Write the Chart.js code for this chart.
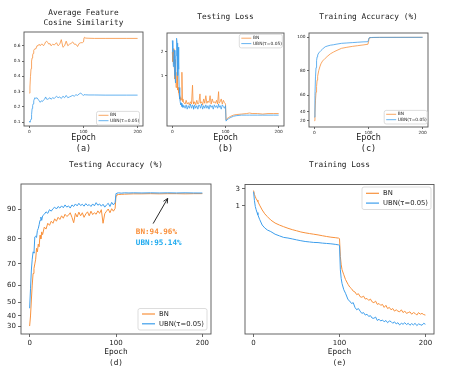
<!DOCTYPE html>
<html>
<head>
<meta charset="utf-8">
<script src="https://cdn.jsdelivr.net/npm/chart.js@4.4.1/dist/chart.umd.min.js"></script>
<style>
  html, body { margin: 0; padding: 0; background: #fff; }
  #fig { position: relative; width: 457px; height: 383px; overflow: hidden; }
  #fig canvas { position: absolute; }
</style>
</head>
<body>
<div id="fig">
  <canvas id="panelA" width="150" height="160" style="left:0;top:0"></canvas>
  <canvas id="panelB" width="146" height="160" style="left:150px;top:0"></canvas>
  <canvas id="panelC" width="161" height="160" style="left:296px;top:0"></canvas>
  <canvas id="panelD" width="228" height="223" style="left:0;top:160px"></canvas>
  <canvas id="panelE" width="229" height="223" style="left:228px;top:160px"></canvas>
</div>
<script>
// ---- data ----
const seriesLabels = ["BN", "UBN(τ=0.05)"];
const epochTicks = [0, 100, 200];

// (a) average feature cosine similarity
const aEpoch = [0,1,2,3,4,5,6,7,8,10,12,14,16,18,20,22,24,26,28,30,32,34,36,38,40,43,46,50,53,56,59,62,65,68,71,74,77,80,83,86,89,92,95,98,100,101,102,104,110,120,140,160,180,200];
const aBN = [0.29,0.33,0.40,0.45,0.50,0.52,0.54,0.55,0.57, 0.58,0.58,0.60,0.60,0.61,0.60,0.61,0.61,0.60,0.61,0.625,0.63,0.62,0.61,0.615,0.60, 0.61,0.605, 0.62,0.60,0.61,0.64,0.59,0.60,0.63,0.60,0.61,0.615,0.625,0.61,0.61,0.595,0.615,0.62,0.62, 0.625,0.652,0.655,0.65,0.649,0.648, 0.648,0.648,0.648,0.648];
const aUBN = [0.105,0.10,0.11,0.12,0.15,0.19,0.21,0.22,0.24, 0.26,0.255,0.26,0.25,0.24,0.23,0.24,0.235,0.245,0.25,0.265,0.25,0.25,0.255,0.26,0.25, 0.26,0.255, 0.27,0.26,0.265,0.255,0.27,0.26,0.275,0.26,0.265,0.27,0.275,0.27,0.28,0.275,0.285,0.29,0.28, 0.275,0.28,0.28,0.279,0.278,0.278, 0.277,0.277,0.277,0.277];
const aYTicks = [0.1, 0.2, 0.3, 0.4, 0.5, 0.6];

// (b) testing loss
const bEpoch = [0,1,2,3,4,5,6,7,8,9,10,11,12,13,14,15,16,17,18,19,20, 22,24,26,28,30,32,34,36, 38,39,40, 42,44,46,48,50,52, 53,55,57,59,61,63,65,67,69,71,73,75,77,79,81,83,85,87,88,90,92,94,96,98,100, 101,103,106,110,115,120,130,140,145,150,160,170,180,190,200];
const bBN = [2.0,1.5,2.2,1.4,1.2,0.9,1.6,0.7,0.75,1.1,0.65,0.7,0.6,0.55,0.5,0.52,0.48,0.5,1.1,0.5,0.46, 0.45,0.43,0.48,0.43,0.45,0.42,0.46,0.43, 0.75,0.46,0.43, 0.46,0.42,0.48,0.43,0.45,0.58, 0.44,0.46,0.42,0.5,0.44,0.55,0.44,0.47,0.45,0.55,0.43,0.5,0.45,0.46,0.44,0.48,0.43,0.62,0.44,0.46,0.5,0.43,0.48,0.45,0.43, 0.27,0.28,0.29,0.3,0.31,0.315,0.32,0.325,0.33,0.325,0.325,0.32,0.325,0.325,0.325];
const bUBN = [2.8,2.0,1.3,1.6,2.1,1.0,0.8,1.8,3.0,2.6,1.0,2.3,1.2,0.7,0.5,0.45,0.42,0.44,0.4,0.42,0.39, 0.41,0.38,0.42,0.37,0.41,0.38,0.43,0.38, 0.42,0.4,0.37, 0.42,0.38,0.41,0.37,0.42,0.4, 0.38,0.43,0.37,0.41,0.38,0.42,0.38,0.41,0.37,0.42,0.39,0.41,0.37,0.42,0.39,0.41,0.38,0.43,0.39,0.41,0.37,0.42,0.4,0.38,0.41, 0.26,0.27,0.28,0.29,0.3,0.305,0.31,0.31,0.31,0.31,0.31,0.31,0.31,0.31,0.31];
const bYTicks = [1, 2];

// (c) training accuracy
const cEpoch = [0,1,2,3,4,5,6,8,10,12,15,20,25,30,35,40,50,60,70,80,90,99,100,101,102,105,110,120,200];
const cBN = [20,38,55,63,68,73,76,80,82.5,84.5,86.3,88,89.5,90.8,91.7,92.5,93.9,94.5,95,95.4,95.8,96.2,97.5,99.5,99.7,99.8,99.85,99.9,99.95];
const cUBN = [30,60,75.5,82,86.5,88.9,90,91.2,91.9,92.6,93.5,94.8,95.3,95.7,95.9,96.2,96.7,96.9,97.1,97.3,97.5,97.6,98.5,99.6,99.8,99.85,99.9,99.92,99.95];
const cYTicks = [20, 40, 60, 80, 100];

// (d) testing accuracy
const dEpoch = [0,1,2,3,4,5,6,7,8,9,10,11,12,13,14,15, 17,19,21,23,25,27,29,31,33,35,37,39,41,43,45,47,49,51,53,55,57,59,61,63,65,67,69,71,73,75,77,79,81,83,85,87,89,91,93,95,97,99, 100,101,103,106,110,115,120, 130,140,150,160,170,180,190,200];
const dBN = [30,40,51.5,60,65.7,68,70,72,76.4,75,78,77,81.3,80,82.5,81.5, 84.2,83.5,85.5,84.8,86.2,85.5,87,86.2,87.5,86.8, 88,87.2,88.5,87.8,88.2,89,87.5,85.7,88.8,87.6, 89.2,88,89,87.5,88.6,89.3,88,89.5,88.4,89, 88.5,89.6,88.8,90,85.5,88.7,89.5,90.2,89,90.3, 89.5,90.4, 94.3,94.6,94.7,94.75,94.8,94.85,94.9, 94.9,94.95,94.9,94.95,94.95,94.9,94.95,94.96];
const dUBN = [46,58,67.3,72,75,74.5,80.7,81,80.5,83,83.7,85,86.5,87.6,86.5,88, 88.5,89.3,88.8,90,89.5,90.3,90.8,90.2,91,90.5, 91.2,90.6,91.5,90.8,91.2,90.5,91.5,91,91.8,91.2, 92,91.3,91.7,91.1,91.9,91.3,91.6,91,91.8,91.2, 92.2,91.4,91.8,91.1,91.7,90.8,91.5,92,91,92.3, 91.5,92.3, 95,95.1,95.2,95.1,95.2,95.15,95.2, 95.15,95.2,95.15,95.2,95.15,95.2,95.15,95.14];
const dYTicks = [30, 40, 50, 60, 70, 80, 90];

// (e) training loss
const eEpoch = [0,1,2,3,4,5,7,10,13,16,20,25,30,35,40,45,50,55,60,65,70,75,80,85,90,95,99,100,101,102,103,105,107,110, 112,114,116,118,120,122,124,126,128,130,132,134,136,138,140,142,144,146,148,150,152,154,156,158,160,162,164,166,168,170,172,174,176,178,180,182,184,186,188,190,192,194,196,198,200];
const eBN = [2.7,2.1,1.8,1.6,1.45,1.32,1.05,0.77,0.6,0.5,0.40,0.33,0.29,0.26,0.235,0.215,0.20,0.185,0.175,0.167,0.16,0.153,0.145,0.138,0.132,0.128,0.124,0.12,0.038,0.022,0.016,0.0116,0.0085,0.0062, 0.0052,0.0047,0.0040,0.0038,0.0032,0.0034,0.0028,0.0027,0.0029,0.0024,0.0025,0.0022,0.0024,0.0020,0.0019,0.0021,0.0017,0.0018,0.0016,0.0017,0.0014,0.0016,0.0013,0.0014,0.0012,0.0013,0.0011,0.0012,0.0011,0.00105,0.0012,0.001,0.0011,0.00095,0.001,0.00105,0.0009,0.001,0.00095,0.00085,0.001,0.0009,0.00095,0.00088,0.00085];
const eUBN = [2.5,1.4,0.96,0.78,0.65,0.56,0.42,0.29,0.24,0.21,0.19,0.16,0.144,0.13,0.125,0.118,0.111,0.105,0.1,0.097,0.094,0.093,0.09,0.088,0.086,0.083,0.08,0.078,0.016,0.009,0.0065,0.0044,0.0035,0.0023, 0.0021,0.0018,0.0019,0.0014,0.0012,0.0013,0.0011,0.00095,0.001,0.00085,0.0009,0.00078,0.00082,0.0007,0.00069,0.00075,0.0006,0.00065,0.00058,0.00062,0.00055,0.0006,0.00052,0.00058,0.00056,0.0005,0.00055,0.00048,0.00052,0.00045,0.0005,0.00047,0.00052,0.00046,0.0005,0.00044,0.00049,0.00045,0.0005,0.00043,0.00048,0.00046,0.00044,0.0005,0.00047];
const eYTicks = [1, 3];

const BN_COLOR = "#f8913c";
const UBN_COLOR = "#3d9eec";
const TEXT = "#222";
const MONO = '"DejaVu Sans Mono"';
Chart.defaults.font.family = '"DejaVu Sans"';

// matplotlib-like power axis for the accuracy panels
class PowerScale extends Chart.LinearScale {
  static id = "power";
  static defaults = {};
  _f(v) {
    const p = this.options.power || 2.2;
    return Math.sign(v) * Math.pow(Math.abs(v), p);
  }
  _fi(t) {
    const p = this.options.power || 2.2;
    return Math.sign(t) * Math.pow(Math.abs(t), 1 / p);
  }
  getPixelForValue(value) {
    const a = this._f(this.min), b = this._f(this.max);
    return this.getPixelForDecimal((this._f(value) - a) / (b - a));
  }
  getValueForPixel(pixel) {
    const a = this._f(this.min), b = this._f(this.max);
    return this._fi(a + this.getDecimalForPixel(pixel) * (b - a));
  }
}
Chart.register(PowerScale);

// box around the plot area
const framePlugin = {
  id: "frame",
  afterDatasetsDraw(chart) {
    const { ctx, chartArea: a } = chart;
    ctx.save();
    ctx.strokeStyle = "#555";
    ctx.lineWidth = 0.9;
    ctx.strokeRect(a.left, a.top, a.right - a.left, a.bottom - a.top);
    ctx.restore();
  },
};

// legend drawn inside the plot area
const legendBox = {
  id: "legendBox",
  afterDatasetsDraw(chart, args, o) {
    if (!o.corner) return;
    const { ctx, chartArea: a } = chart;
    const x = o.corner[1] === "r" ? a.right - o.mx - o.w : a.left + o.mx;
    const y = o.corner[0] === "b" ? a.bottom - o.my - o.h : a.top + o.my;
    ctx.save();
    ctx.fillStyle = "rgba(255,255,255,0.9)";
    ctx.strokeStyle = "#d4d4d4";
    ctx.lineWidth = 0.8;
    ctx.beginPath();
    ctx.roundRect(x, y, o.w, o.h, 2);
    ctx.fill();
    ctx.stroke();
    ctx.font = o.size + 'px "DejaVu Sans"';
    ctx.textBaseline = "middle";
    chart.data.datasets.forEach((ds, i) => {
      const ry = y + o.pad + o.rowH * (i + 0.5);
      ctx.strokeStyle = ds.borderColor;
      ctx.lineWidth = o.lw;
      ctx.beginPath();
      ctx.moveTo(x + o.inset, ry);
      ctx.lineTo(x + o.inset + o.line, ry);
      ctx.stroke();
      ctx.fillStyle = TEXT;
      ctx.fillText(ds.label, x + o.inset + o.line + o.gap, ry);
    });
    ctx.restore();
  },
};

// arrow and final accuracy note in (d)
const arrowNote = {
  id: "arrowNote",
  afterDatasetsDraw(chart, args, o) {
    if (!o.tip) return;
    const { ctx, scales: { x, y } } = chart;
    const x0 = x.getPixelForValue(o.tail[0]), y0 = y.getPixelForValue(o.tail[1]);
    const x1 = x.getPixelForValue(o.tip[0]), y1 = y.getPixelForValue(o.tip[1]);
    const ang = Math.atan2(y1 - y0, x1 - x0);
    ctx.save();
    ctx.strokeStyle = "#111";
    ctx.lineWidth = 0.9;
    ctx.beginPath();
    ctx.moveTo(x0, y0);
    ctx.lineTo(x1, y1);
    ctx.moveTo(x1 - 5 * Math.cos(ang - 0.45), y1 - 5 * Math.sin(ang - 0.45));
    ctx.lineTo(x1, y1);
    ctx.lineTo(x1 - 5 * Math.cos(ang + 0.45), y1 - 5 * Math.sin(ang + 0.45));
    ctx.stroke();
    ctx.font = "bold 7.6px " + MONO;
    ctx.textBaseline = "middle";
    o.lines.forEach((l) => {
      ctx.fillStyle = l.color;
      ctx.fillText(l.text, x.getPixelForValue(l.at[0]), y.getPixelForValue(l.at[1]));
    });
    ctx.restore();
  },
};

// panel titles on top and (a)..(e) captions below
const panelText = {
  id: "panelText",
  afterDraw(chart, args, o) {
    const { ctx, chartArea: a } = chart;
    const cx = (a.left + a.right) / 2;
    ctx.save();
    ctx.fillStyle = TEXT;
    ctx.textAlign = "center";
    ctx.textBaseline = "middle";
    ctx.font = o.titleSize + "px " + MONO;
    o.title.forEach((t, i) => ctx.fillText(t, cx, o.titleY + i * o.titleGap));
    ctx.font = o.capSize + "px " + MONO;
    ctx.fillText(o.caption, cx, o.capY);
    ctx.restore();
  },
};

function pts(xs, ys) {
  return xs.map((x, i) => ({ x: x, y: ys[i] }));
}

function fixedTicks(values) {
  return (scale) => { scale.ticks = values.map((v) => ({ value: v })); };
}

function tickGrid(p) {
  return { drawOnChartArea: false, drawTicks: true, tickLength: p.tl, tickColor: "#444", tickWidth: 0.8 };
}

function makePanel(id, p) {
  return new Chart(document.getElementById(id), {
    type: "line",
    data: {
      datasets: [
        { label: seriesLabels[0], data: pts(p.epochs, p.bn), borderColor: BN_COLOR, borderWidth: p.lw, pointRadius: 0, tension: 0, order: 1 },
        { label: seriesLabels[1], data: pts(p.epochs, p.ubn), borderColor: UBN_COLOR, borderWidth: p.lw, pointRadius: 0, tension: 0, order: 0 },
      ],
    },
    options: {
      responsive: false,
      animation: false,
      devicePixelRatio: 1,
      layout: { autoPadding: false, padding: { left: 0, top: p.top, right: p.right, bottom: 0 } },
      scales: {
        x: {
          type: "linear", min: -10, max: 210,
          afterBuildTicks: fixedTicks(epochTicks),
          afterFit: (s) => { s.height = p.xh; },
          grid: tickGrid(p),
          border: { display: false },
          ticks: { font: { size: p.tick }, color: TEXT, padding: p.tp, maxRotation: 0, autoSkip: false },
          title: { display: true, text: "Epoch", color: TEXT, font: { family: p.xFamily, size: p.xSize }, padding: { top: 0, bottom: p.xPad } },
        },
        y: {
          type: p.yType, min: p.yMin, max: p.yMax, power: 2.2,
          afterBuildTicks: fixedTicks(p.yTicks),
          afterFit: (s) => { s.width = p.yw; },
          grid: tickGrid(p),
          border: { display: false },
          ticks: { font: { size: p.tick }, color: TEXT, padding: p.tp, autoSkip: false, callback: p.yFmt },
        },
      },
      plugins: {
        legend: { display: false },
        tooltip: { enabled: false },
        panelText: p.text,
        legendBox: p.legend,
        arrowNote: p.note || {},
      },
    },
    plugins: [framePlugin, legendBox, arrowNote, panelText],
  });
}

const smallPanel = { lw: 0.8, tl: 2, tp: 1.5, tick: 4.3, xh: 34, xFamily: '"DejaVu Sans"', xSize: 8, xPad: 17.7 };
const smallLegend = { size: 4.4, pad: 1.2, rowH: 5.4, inset: 2, line: 10, gap: 1.6, lw: 0.8, w: 43, h: 13.6 };
const bigPanel = { lw: 1, tl: 3, tp: 2, tick: 7, xh: 49, xFamily: MONO, xSize: 7.8, xPad: 26 };
const bigLegend = { size: 6.8, pad: 0.6, rowH: 9.8, inset: 4, line: 13, gap: 4, lw: 1.2, w: 69, h: 21.5 };

makePanel("panelA", Object.assign({}, smallPanel, {
  epochs: aEpoch, bn: aBN, ubn: aUBN,
  top: 32, right: 7, yw: 24,
  yType: "linear", yMin: 0.075, yMax: 0.69, yTicks: aYTicks, yFmt: (v) => v.toFixed(1),
  text: { title: ["Average Feature", "Cosine Similarity"], titleY: 13, titleGap: 10, titleSize: 7.8, caption: "(a)", capY: 148.5, capSize: 8.5 },
  legend: Object.assign({ corner: "br", mx: 3.5, my: 1 }, smallLegend),
}));

makePanel("panelB", Object.assign({}, smallPanel, {
  epochs: bEpoch, bn: bBN, ubn: bUBN,
  top: 33, right: 12, yw: 17,
  yType: "logarithmic", yMin: 0.225, yMax: 3.5, yTicks: bYTicks, yFmt: (v) => String(v),
  text: { title: ["Testing Loss"], titleY: 17, titleGap: 10, titleSize: 7.8, caption: "(b)", capY: 149, capSize: 8.5 },
  legend: Object.assign({ corner: "tr", mx: 1.7, my: 1.3 }, smallLegend),
}));

makePanel("panelC", Object.assign({}, smallPanel, {
  epochs: cEpoch, bn: cBN, ubn: cUBN,
  top: 33, right: 29, yw: 13, xh: 33,
  yType: "power", yMin: -24.1, yMax: 102.2, yTicks: cYTicks, yFmt: (v) => String(v),
  text: { title: ["Training Accuracy (%)"], titleY: 17, titleGap: 10, titleSize: 7.8, caption: "(c)", capY: 148.5, capSize: 8.5 },
  legend: Object.assign({ corner: "br", mx: 0.8, my: 3 }, smallLegend),
}));

makePanel("panelD", Object.assign({}, bigPanel, {
  epochs: dEpoch, bn: dBN, ubn: dUBN,
  top: 24, right: 17, yw: 21,
  yType: "power", yMin: 17.4, yMax: 97.8, yTicks: dYTicks, yFmt: (v) => String(v),
  text: { title: ["Testing Accuracy (%)"], titleY: 4.7, titleGap: 10, titleSize: 7.8, caption: "(d)", capY: 203.3, capSize: 7.8 },
  legend: Object.assign({ corner: "br", mx: 4, my: 4 }, bigLegend),
  note: {
    tail: [143, 85.4], tip: [159.8, 93.5],
    lines: [
      { text: "BN:94.96%", at: [123, 82.3], color: "#f98f3a" },
      { text: "UBN:95.14%", at: [123, 78.6], color: "#1eaaef" },
    ],
  },
}));

makePanel("panelE", Object.assign({}, bigPanel, {
  epochs: eEpoch, bn: eBN, ubn: eUBN,
  top: 24.5, right: 23, yw: 17,
  yType: "logarithmic", yMin: 0.00025, yMax: 4.0, yTicks: eYTicks, yFmt: (v) => String(v),
  text: { title: ["Training Loss"], titleY: 4.7, titleGap: 10, titleSize: 7.8, caption: "(e)", capY: 203.3, capSize: 7.8 },
  legend: Object.assign({ corner: "tr", mx: 3, my: 2.5 }, bigLegend, { h: 22.5, pad: 1.4 }),
}));
</script>
</body>
</html>
